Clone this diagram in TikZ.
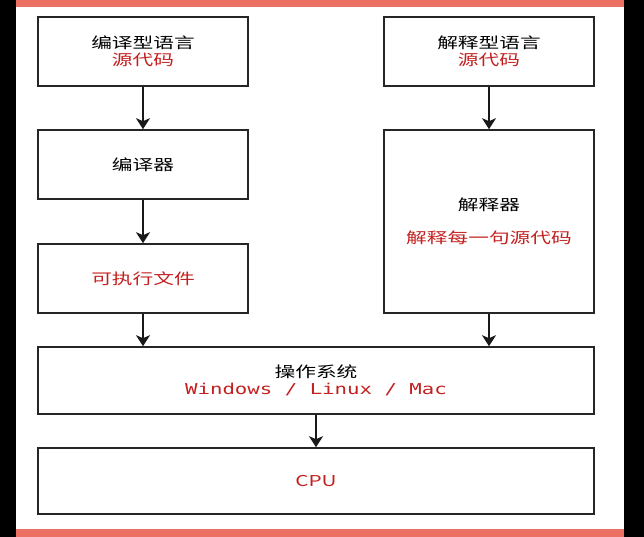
\documentclass[tikz,border=0pt]{standalone}
\usepackage{fontspec}
\setmainfont{Noto Sans CJK SC}[FakeStretch=1.38]
\setmonofont{DejaVu Sans Mono}[FakeStretch=1.38]
\usetikzlibrary{arrows.meta, positioning}
\definecolor{barred}{RGB}{236,112,99}
\definecolor{codered}{RGB}{196,32,32}

\begin{document}
\begin{tikzpicture}[x=1pt, y=-1pt, >={Stealth[length=11pt, width=14pt, inset=3pt]},
        box/.style={draw=black!85, line width=1.6pt, minimum width=210pt, minimum height=69pt, align=center, inner sep=0pt, font=\fontsize{15}{17}\selectfont},
        wide/.style={box, minimum width=556pt, minimum height=67pt},
        arr/.style={->, line width=1.5pt, black!90}]
        % frame
        \useasboundingbox (0,0) rectangle (644,537);
        \fill[black] (0,0) rectangle (16,537);
        \fill[black] (624,0) rectangle (644,537);
        \fill[white] (16,7) rectangle (624,529);
        \fill[barred] (16,0) rectangle (624,7);
        \fill[barred] (16,529) rectangle (624,537);
        % compiled branch
        \node[box] (cmpsrc) at (143,51.5) {编译型语言\\\textcolor{codered}{源代码}};
        \node[box] (compiler) at (143,164.5) {编译器};
        \node[box] (exe) at (143,278.5) {\textcolor{codered}{可执行文件}};
        % interpreted branch
        \node[box] (intsrc) at (489,51.5) {解释型语言\\\textcolor{codered}{源代码}};
        \node[box, minimum height=183pt] (interp) at (489,221.5) {解释器\\[16pt]\textcolor{codered}{解释每一句源代码}};
        % bottom
        \node[wide] (os) at (316,380.5) {操作系统\\\textcolor{codered}{\ttfamily Windows / Linux / Mac}};
        \node[wide, minimum height=66pt] (cpu) at (316,481) {\textcolor{codered}{CPU}};
        \draw[arr] (cmpsrc) -- (compiler);
        \draw[arr] (compiler) -- (exe);
        \draw[arr] (exe.south) -- (exe.south |- os.north);
        \draw[arr] (intsrc) -- (interp);
        \draw[arr] (interp.south) -- (interp.south |- os.north);
        \draw[arr] (os) -- (cpu);
\end{tikzpicture}
\end{document}
